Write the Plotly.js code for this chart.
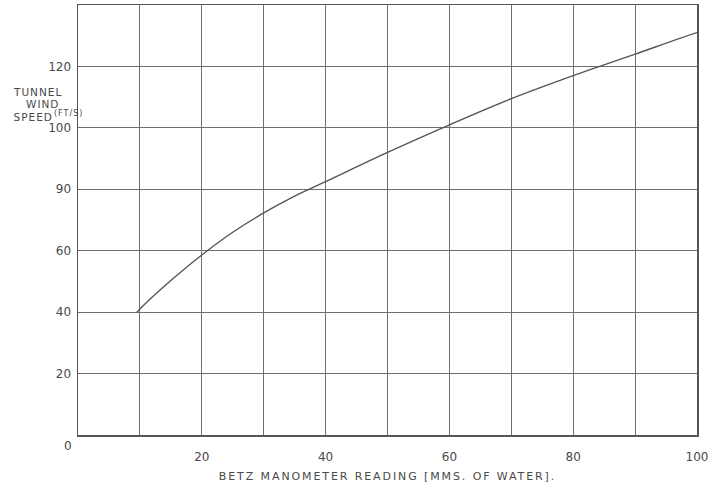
<!DOCTYPE html>
<html>
<head>
<meta charset="utf-8">
<script src="https://cdn.plot.ly/plotly-3.0.1.min.js"></script>
<style>html,body{margin:0;padding:0;background:#fff;}#chart{width:712px;height:490px;}</style>
</head>
<body>
<div id="chart"></div>
<script>
// Data
const manometerReading = [9.5, 12, 15, 20, 25, 30, 35, 40, 50, 60, 70, 80, 90, 100, 101.8];
const windSpeed = [40, 44.9, 50.3, 58.6, 66, 72.3, 77.8, 82.5, 92, 101, 109.5, 117, 124, 131, 132];

const xTickVals = [10, 20, 30, 40, 50, 60, 70, 80, 90, 100];
const xTickText = ['', '20', '', '40', '', '60', '', '80', '', '100'];
const yTickVals = [20, 40, 60, 80, 100, 120];
const yTickText = ['20', '40', '60', '90', '100', '120'];

const ink = '#4a4a4a';
const gridInk = '#6f6f6f';
const fontFam = 'DejaVu Sans, sans-serif';

const trace = {
  x: manometerReading,
  y: windSpeed,
  type: 'scatter',
  mode: 'lines',
  line: {color: '#555555', width: 1.4, shape: 'spline', smoothing: 0.9},
  hoverinfo: 'skip',
  cliponaxis: false
};

function px2paperX(px) { return (px - 78) / 619; }
function px2paperY(py) { return (435 - py) / 430; }

const layout = {
  width: 712,
  height: 490,
  margin: {l: 78, r: 15, t: 5, b: 55},
  paper_bgcolor: '#ffffff',
  plot_bgcolor: '#ffffff',
  showlegend: false,
  font: {family: fontFam, color: ink},
  xaxis: {
    range: [0, 100],
    tickmode: 'array',
    tickvals: xTickVals,
    ticktext: xTickText,
    showgrid: true,
    gridcolor: gridInk,
    gridwidth: 1,
    showline: true,
    linecolor: '#555555',
    linewidth: 1.5,
    mirror: true,
    ticks: '',
    zeroline: false,
    ticklabelstandoff: 10,
    tickfont: {family: fontFam, size: 12, color: ink},
    title: {text: 'BETZ MANOMETER READING [MMS. OF WATER].', font: {family: fontFam, size: 11, color: ink}, standoff: 9}
  },
  yaxis: {
    range: [0, 140],
    tickmode: 'array',
    tickvals: yTickVals,
    ticktext: yTickText,
    showgrid: true,
    gridcolor: gridInk,
    gridwidth: 1,
    showline: true,
    linecolor: '#555555',
    linewidth: 1.5,
    mirror: true,
    ticks: '',
    zeroline: false,
    ticklabelstandoff: 3,
    tickfont: {family: fontFam, size: 12, color: ink}
  },
  annotations: [
    {text: '0', xref: 'paper', yref: 'paper', x: px2paperX(68), y: px2paperY(446), showarrow: false, font: {family: fontFam, size: 12, color: ink}, xanchor: 'center', yanchor: 'middle'},
    {text: 'TUNNEL', xref: 'paper', yref: 'paper', x: px2paperX(37), y: px2paperY(92), showarrow: false, font: {family: fontFam, size: 10.5, color: ink}, xanchor: 'center', yanchor: 'middle'},
    {text: 'WIND', xref: 'paper', yref: 'paper', x: px2paperX(42), y: px2paperY(104), showarrow: false, font: {family: fontFam, size: 10.5, color: ink}, xanchor: 'center', yanchor: 'middle'},
    {text: 'SPEED', xref: 'paper', yref: 'paper', x: px2paperX(33), y: px2paperY(117), showarrow: false, font: {family: fontFam, size: 10.5, color: ink}, xanchor: 'center', yanchor: 'middle'},
    {text: '(FT/S)', xref: 'paper', yref: 'paper', x: px2paperX(68), y: px2paperY(114), showarrow: false, font: {family: fontFam, size: 8, color: ink}, xanchor: 'center', yanchor: 'middle'}
  ]
};

Plotly.newPlot('chart', [trace], layout, {staticPlot: true, displayModeBar: false}).then(function () {
  document.querySelectorAll('.xtitle').forEach(function (el) { el.style.letterSpacing = '1.9px'; });
  document.querySelectorAll('.annotation-text').forEach(function (el) {
    if (el.textContent !== '0') { el.style.letterSpacing = '1px'; }
  });
});
</script>
</body>
</html>
